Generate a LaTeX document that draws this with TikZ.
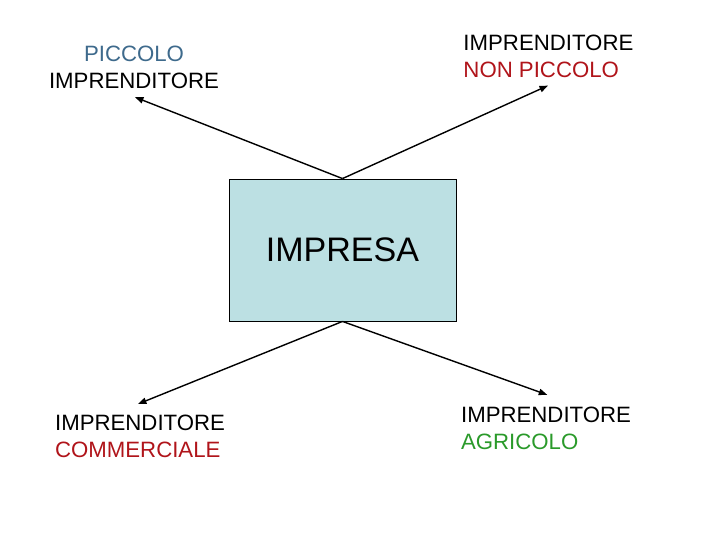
\documentclass[tikz,border=0pt]{standalone}
\usepackage{fontspec}
\setmainfont{Liberation Sans}
\usetikzlibrary{arrows.meta,positioning}
\definecolor{boxblue}{HTML}{BCE0E3}
\definecolor{labelblue}{HTML}{3E6A8C}
\definecolor{labelred}{HTML}{B0141A}
\definecolor{labelgreen}{HTML}{2A9A2A}

\begin{document}
\begin{tikzpicture}[
    impresa/.style={draw, line width=0.6pt, fill=boxblue, minimum width=5.675cm, minimum height=3.55cm, font=\fontsize{24.2}{28}\selectfont},
    lbl/.style={inner sep=0pt, font=\fontsize{15.8}{19.3}\selectfont},
    arr/.style={-{Triangle[length=6pt,width=4.5pt]}, line width=1pt}
]
\useasboundingbox (0,0) rectangle (18,-13.5);
\node[impresa] (imp) at (8.5625,-6.25) {IMPRESA};

\node[lbl, align=center] (piccolo) at (3.35,-1.675) {\textcolor{labelblue}{PICCOLO}\\IMPRENDITORE};
\node[lbl, align=left, anchor=west] (nonpiccolo) at (11.58,-1.41) {IMPRENDITORE\\\textcolor{labelred}{NON PICCOLO}};
\node[lbl, align=left, anchor=west] (commerciale) at (1.37,-10.91) {IMPRENDITORE\\\textcolor{labelred}{COMMERCIALE}};
\node[lbl, align=left, anchor=west] (agricolo) at (11.52,-10.7) {IMPRENDITORE\\\textcolor{labelgreen}{AGRICOLO}};

\coordinate (tpic) at (3.375,-2.43);
\coordinate (tnon) at (13.7,-2.14);
\coordinate (tcom) at (3.45,-10.1);
\coordinate (tagr) at (13.68,-9.87);

\draw[arr] (imp.north) -- (tpic);
\draw[arr] (imp.north) -- (tnon);
\draw[arr] (imp.south) -- (tcom);
\draw[arr] (imp.south) -- (tagr);
\end{tikzpicture}
\end{document}
